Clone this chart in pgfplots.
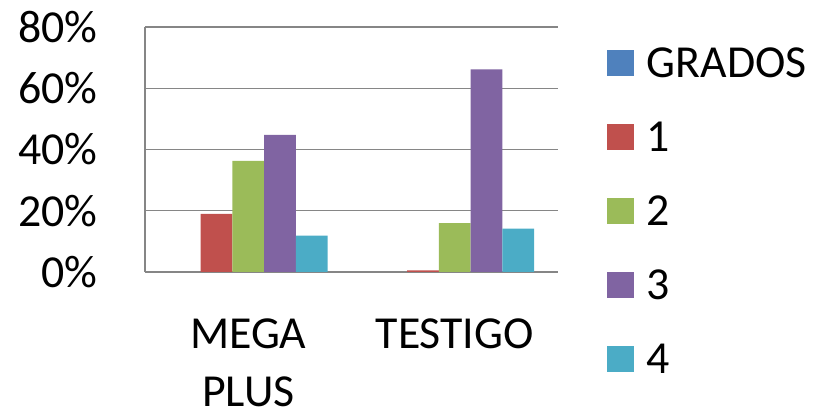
\documentclass[border=0pt]{standalone}
\usepackage{fontspec}
\setmainfont{Carlito}
\usepackage{pgfplots}
\pgfplotsset{compat=1.18}

\definecolor{cGrados}{HTML}{4F81BD}
\definecolor{cUno}{HTML}{C0504D}
\definecolor{cDos}{HTML}{9BBB59}
\definecolor{cTres}{HTML}{8064A2}
\definecolor{cCuatro}{HTML}{4BACC6}
\definecolor{rejilla}{HTML}{868686}

\newcommand{\fs}{\fontsize{46}{58}\selectfont}

\begin{document}
\begin{tikzpicture}
\useasboundingbox (0,0) rectangle (816bp,414bp);
\begin{axis}[
    at={(145bp,142bp)}, anchor=south west,
    scale only axis,
    width=413bp, height=245bp,
    ybar=0pt, bar width=31.7bp,
    xmin=-0.5, xmax=1.5,
    ymin=0, ymax=80,
    xtick={0,1},
    xticklabels={{MEGA\\PLUS},TESTIGO},
    ytick={0,20,40,60,80},
    yticklabel={\pgfmathprintnumber{\tick}\%},
    /pgf/number format/assume math mode=true,
    axis lines*=left,
    axis line style={rejilla, line width=1.3bp},
    major tick length=0pt,
    ymajorgrids,
    grid style={rejilla, line width=1.3bp},
    tick label style={font=\fs, inner sep=0pt},
    x tick label style={align=center, anchor=north, yshift=-47bp},
    y tick label style={anchor=east, xshift=-47.5bp},
    legend style={draw=none, fill=none, font=\fs,
      at={(1.1179,0.251)}, anchor=west, inner sep=0pt,
      row sep=44bp, column sep=12.5bp,
      nodes={inner sep=0pt, text height=30bp, text depth=0pt}},
    legend cell align=left,
    legend image code/.code={\fill[#1] (0bp,-13.7bp) rectangle (27.3bp,12.7bp);},
  ]
\addplot[fill=cGrados, draw=none] coordinates {(0,0) (1,0)};
\addlegendentry{GRADOS}
\addplot[fill=cUno, draw=none] coordinates {(0,19) (1,0.5)};
\addlegendentry{1}
\addplot[fill=cDos, draw=none] coordinates {(0,36.3) (1,16)};
\addlegendentry{2}
\addplot[fill=cTres, draw=none] coordinates {(0,44.8) (1,66.2)};
\addlegendentry{3}
\addplot[fill=cCuatro, draw=none] coordinates {(0,11.9) (1,14.2)};
\addlegendentry{4}
\end{axis}
\end{tikzpicture}
\end{document}
